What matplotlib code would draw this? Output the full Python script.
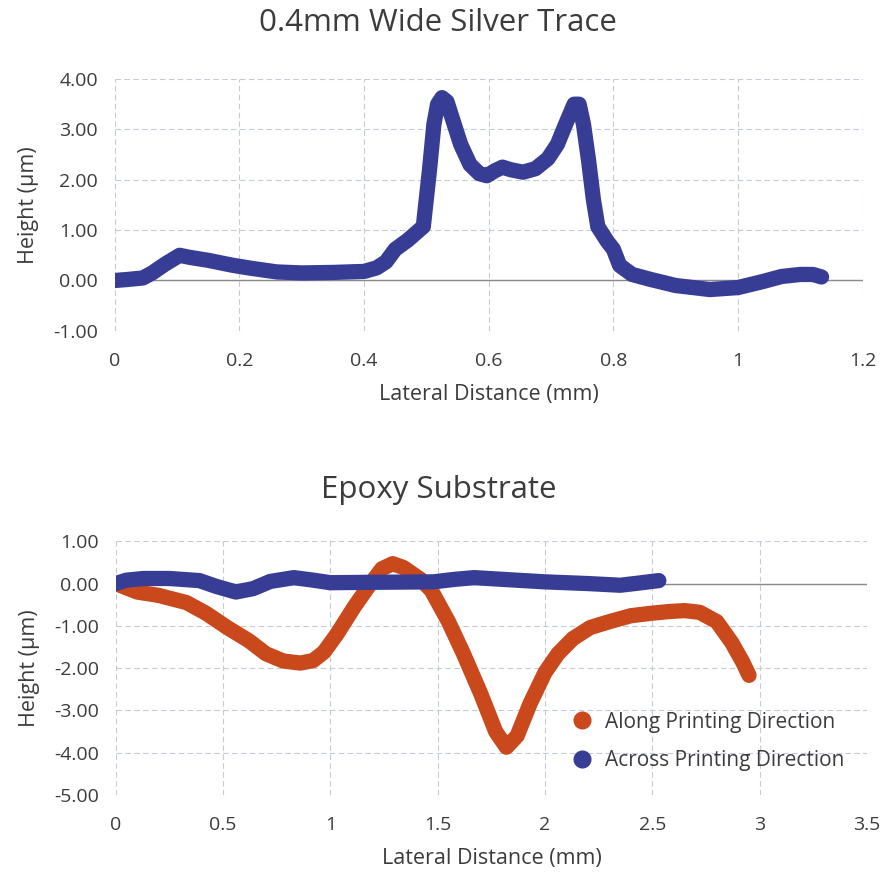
import matplotlib
matplotlib.use('Agg')
import matplotlib.pyplot as plt
from matplotlib.lines import Line2D
from matplotlib.ticker import FuncFormatter, MultipleLocator

# silver trace profile (mm, um)
trace_x = [0.0, 0.02, 0.045, 0.06, 0.08, 0.104, 0.12, 0.15, 0.19, 0.22, 0.26, 0.30,
           0.35, 0.40, 0.42, 0.435, 0.45, 0.47, 0.495, 0.505, 0.512, 0.518, 0.525,
           0.533, 0.542, 0.555, 0.57, 0.585, 0.597, 0.61, 0.622, 0.635, 0.655,
           0.675, 0.695, 0.71, 0.725, 0.737, 0.745, 0.752, 0.76, 0.768, 0.775,
           0.79, 0.80, 0.81, 0.83, 0.86, 0.90, 0.955, 1.0, 1.04, 1.07, 1.10, 1.12, 1.134]
trace_y = [0.0, 0.02, 0.05, 0.15, 0.32, 0.50, 0.46, 0.40, 0.30, 0.24, 0.17, 0.15,
           0.16, 0.18, 0.25, 0.37, 0.62, 0.80, 1.07, 2.2, 3.1, 3.5, 3.63,
           3.55, 3.2, 2.7, 2.3, 2.12, 2.08, 2.18, 2.25, 2.2, 2.15,
           2.22, 2.42, 2.7, 3.15, 3.5, 3.5, 3.1, 2.4, 1.6, 1.07,
           0.78, 0.62, 0.30, 0.12, 0.02, -0.1, -0.18, -0.14, -0.02, 0.08, 0.12, 0.12, 0.07]

# epoxy substrate profiles
along_x = [0.0, 0.1, 0.2, 0.33, 0.42, 0.52, 0.62, 0.7, 0.78, 0.86, 0.92, 0.97, 1.03,
           1.11, 1.18, 1.24, 1.29, 1.34, 1.42, 1.47, 1.55, 1.62, 1.70, 1.77, 1.82,
           1.87, 1.93, 2.0, 2.06, 2.13, 2.21, 2.3, 2.4, 2.5, 2.58, 2.65, 2.72,
           2.80, 2.87, 2.92, 2.95]
along_y = [0.0, -0.2, -0.28, -0.45, -0.7, -1.04, -1.35, -1.66, -1.83, -1.88, -1.82,
           -1.62, -1.2, -0.56, -0.05, 0.35, 0.47, 0.38, 0.1, -0.16, -0.9, -1.66,
           -2.6, -3.5, -3.87, -3.6, -2.84, -2.1, -1.66, -1.3, -1.04, -0.9, -0.76,
           -0.7, -0.66, -0.64, -0.68, -0.9, -1.4, -1.85, -2.17]
across_x = [0.0, 0.05, 0.13, 0.25, 0.39, 0.47, 0.56, 0.64, 0.72, 0.83, 0.92, 1.0,
            1.2, 1.48, 1.58, 1.67, 1.8, 2.0, 2.2, 2.35, 2.45, 2.53]
across_y = [0.0, 0.08, 0.12, 0.12, 0.07, -0.07, -0.2, -0.12, 0.05, 0.14, 0.08, 0.02,
            0.03, 0.04, 0.1, 0.14, 0.1, 0.04, 0.0, -0.04, 0.02, 0.07]

BLUE = '#373d95'
ORANGE = '#c9481c'
TXT = '#3c3c3c'
GRID = '#c6cad8'
LW = 11

plt.rcParams['font.family'] = ['Open Sans', 'DejaVu Sans']

fig = plt.figure(figsize=(8.83, 8.73), dpi=100)
fig.patch.set_facecolor('white')

ax1 = fig.add_axes([0.130, 0.621, 0.847, 0.2885])
ax2 = fig.add_axes([0.131, 0.0893, 0.851, 0.2907])


def style(ax, xmin, xmax, xstep, ymin, ymax):
    ax.set_xlim(xmin, xmax)
    ax.set_ylim(ymin, ymax)
    ax.xaxis.set_major_locator(MultipleLocator(xstep))
    ax.yaxis.set_major_locator(MultipleLocator(1))
    ax.xaxis.set_major_formatter(FuncFormatter(lambda v, p: f"{v:g}"))
    ax.yaxis.set_major_formatter(FuncFormatter(lambda v, p: f"{v:.2f}"))
    for s in ax.spines.values():
        s.set_visible(False)
    ax.grid(True, color=GRID, lw=0.8, ls=(0, (5, 3)))
    ax.set_axisbelow(True)
    ax.axhline(0, color='#8a8a8a', lw=1.0, zorder=1)
    ax.tick_params(length=0, labelsize=14, labelcolor=TXT)
    ax.tick_params(axis='x', pad=15)
    ax.tick_params(axis='y', pad=12)
    ax.set_xlabel('Lateral Distance (mm)', fontsize=15.5, color=TXT, labelpad=10)
    ax.set_ylabel('Height (µm)', fontsize=15.5, color=TXT, labelpad=10)


style(ax1, 0, 1.2, 0.2, -1, 4)
ax1.plot(trace_x, trace_y, color=BLUE, lw=LW, solid_capstyle='round',
         solid_joinstyle='round', zorder=3)

style(ax2, 0, 3.5, 0.5, -5, 1)
ax2.plot(along_x, along_y, color=ORANGE, lw=LW, solid_capstyle='round',
         solid_joinstyle='round', zorder=3)
ax2.plot(across_x, across_y, color=BLUE, lw=LW, solid_capstyle='round',
         solid_joinstyle='round', zorder=4)

handles = [Line2D([], [], ls='none', marker='o', ms=12, color=ORANGE),
           Line2D([], [], ls='none', marker='o', ms=12, color=BLUE)]
ax2.legend(handles, ['Along Printing Direction', 'Across Printing Direction'],
           loc='lower right', bbox_to_anchor=(0.995, 0.02), frameon=False,
           fontsize=15, handletextpad=0.1, labelspacing=0.85, labelcolor=TXT)

fig.text(0.496, 0.974, '0.4mm Wide Silver Trace', ha='center', va='center',
         fontsize=22.5, color=TXT)
fig.text(0.497, 0.439, 'Epoxy Substrate', ha='center', va='center',
         fontsize=22.5, color=TXT)

fig.savefig('out.png', dpi=100, facecolor='white')
